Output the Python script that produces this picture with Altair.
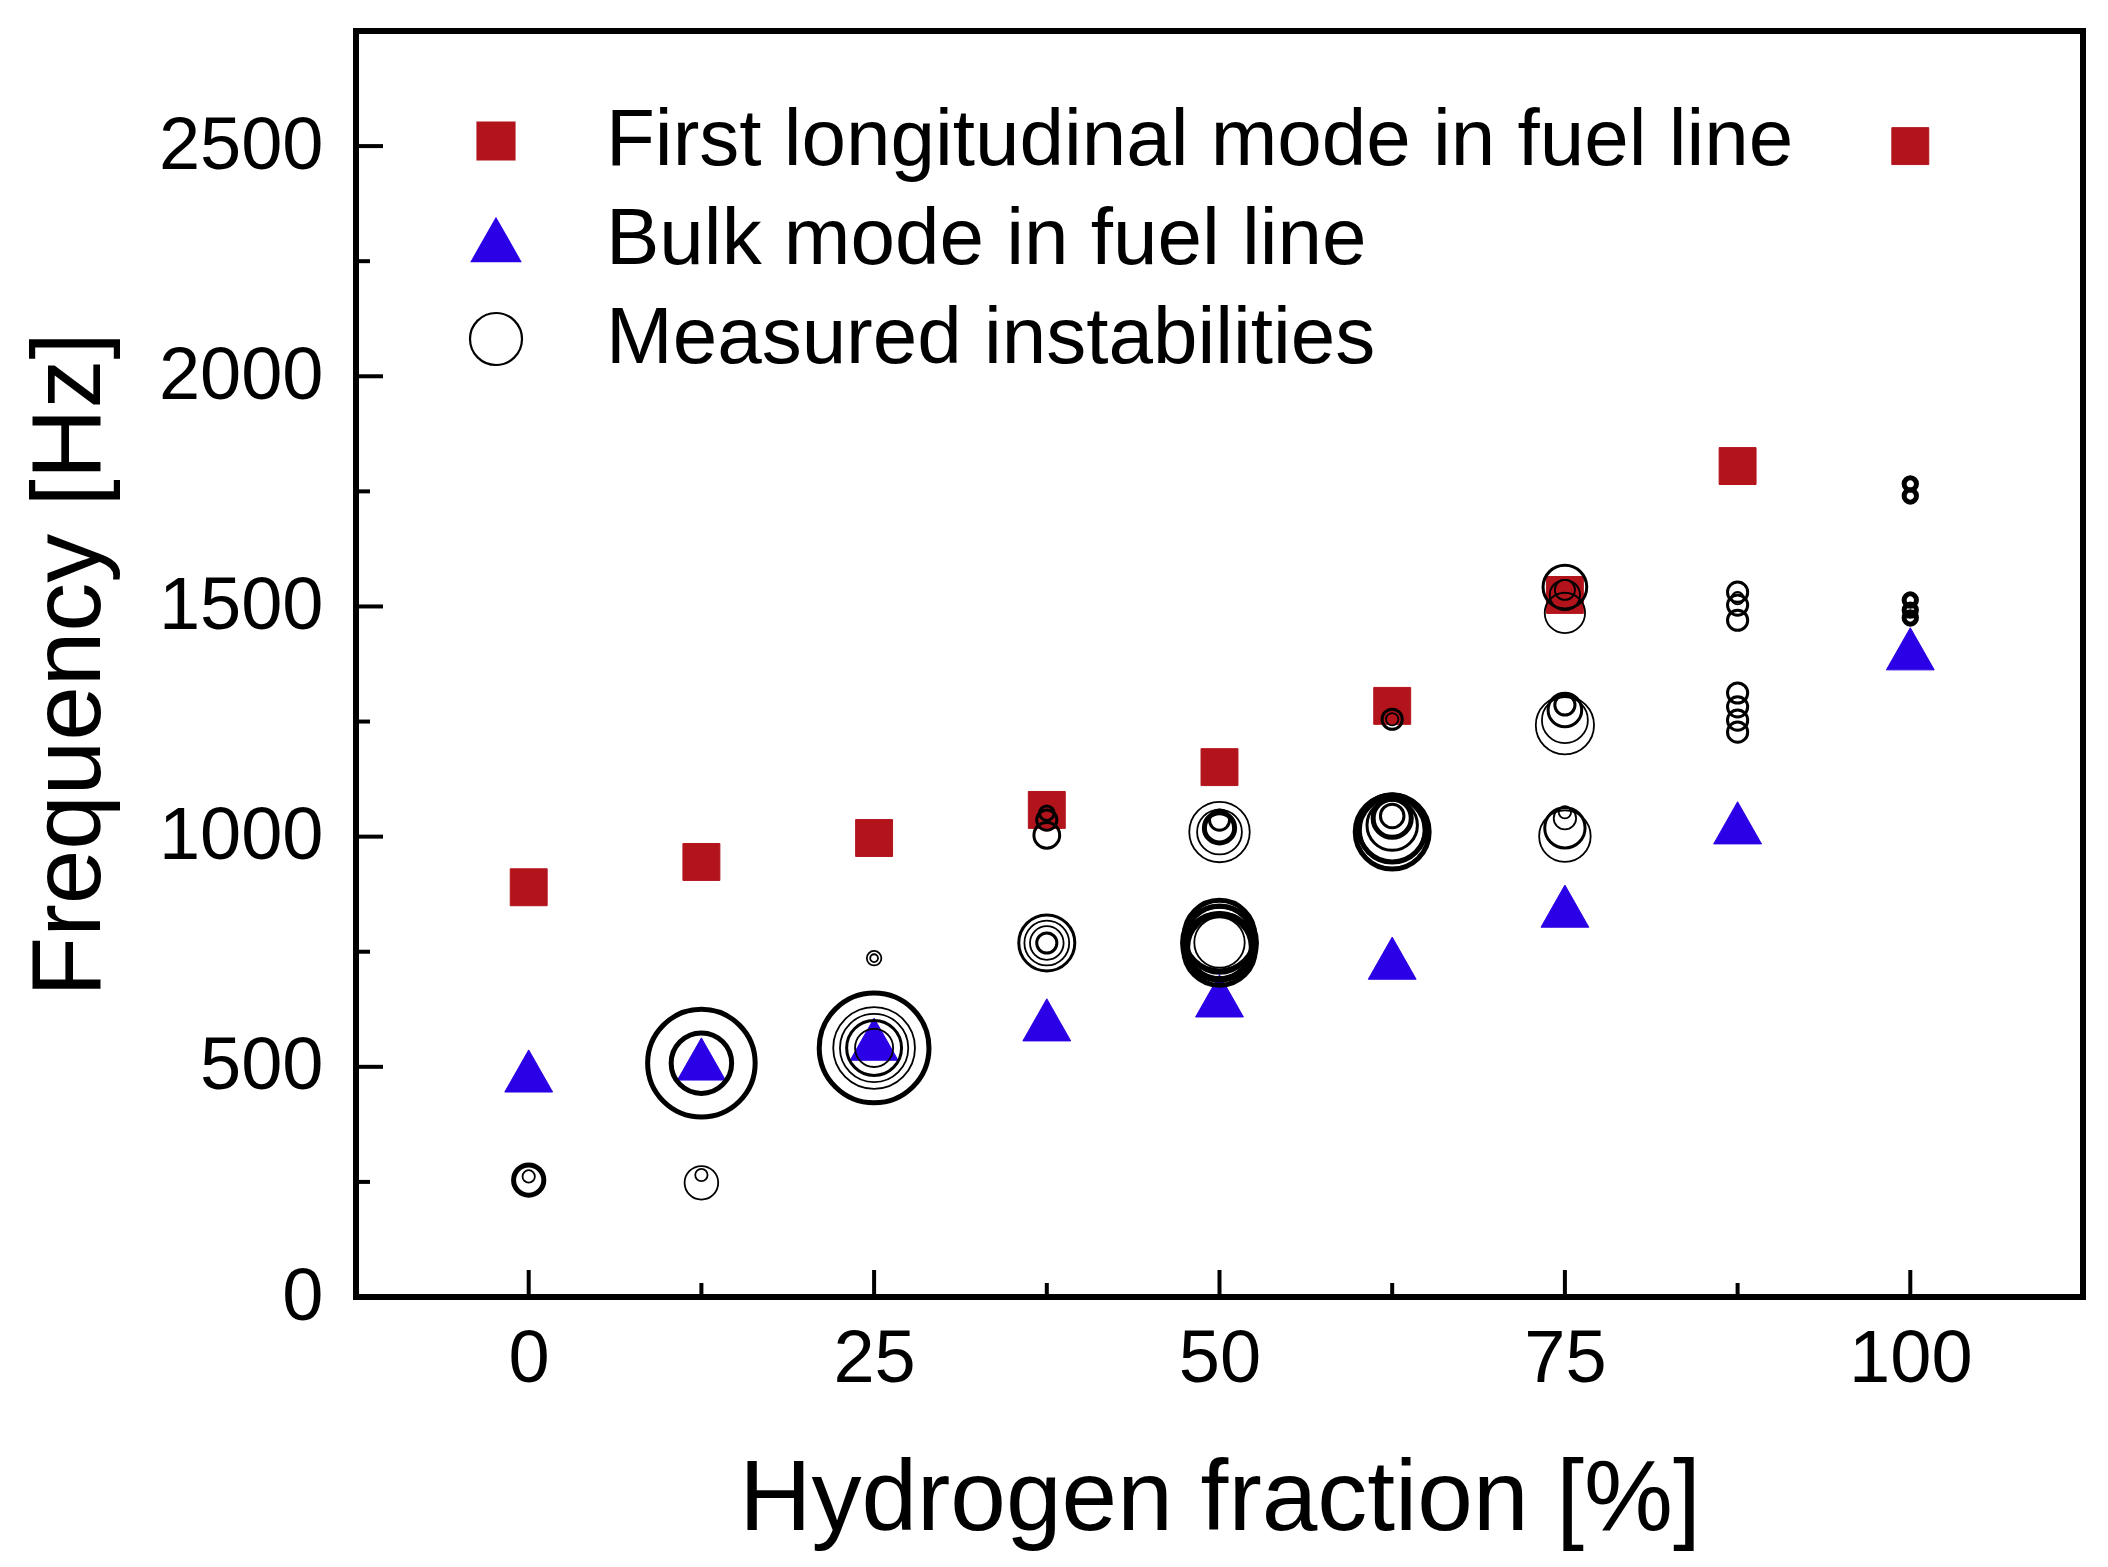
import altair as alt
import pandas as pd

# hydrogen fraction steps [%]
h2 = [0, 12.5, 25, 37.5, 50, 62.5, 75, 87.5, 100]

# model predictions [Hz]
long_mode = [890, 945, 997, 1058, 1151, 1284, 1525, 1805, 2500]   # first longitudinal mode
bulk_mode = [491, 517, 560, 602, 654, 736, 849, 1030, 1408]       # bulk mode

# measured instabilities: fraction, frequency [Hz], relative amplitude (ring size)
# strong rings
heavy_x = [0, 12.5, 12.5, 25, 50, 50, 50, 50, 50, 62.5, 62.5, 62.5, 100, 100, 100, 100, 100]
heavy_f = [254, 508, 508, 541, 1019, 769, 755, 785, 762, 1010, 1018, 1040, 1766, 1740, 1514, 1492, 1475]
heavy_a = [0.27, 0.96, 0.54, 0.98, 0.27, 0.66, 0.64, 0.63, 0.58, 0.66, 0.60, 0.34, 0.11, 0.11, 0.11, 0.11, 0.11]

# medium rings
mid_x = [25, 37.5, 37.5, 37.5, 37.5, 37.5, 50, 50, 50, 62.5, 62.5, 62.5, 62.5,
         75, 75, 75, 75, 87.5, 87.5, 87.5, 87.5, 87.5, 87.5, 87.5]
mid_f = [541, 1003, 1036, 1051, 769, 769, 1036, 775, 760, 1014, 1025, 1045, 1255,
         1542, 1275, 1286, 1019, 1531, 1503, 1470, 1312, 1282, 1253, 1227]
mid_a = [0.49, 0.23, 0.18, 0.13, 0.50, 0.18, 0.18, 0.59, 0.55, 0.57, 0.45, 0.21, 0.18,
         0.39, 0.30, 0.18, 0.36, 0.18, 0.18, 0.18, 0.18, 0.18, 0.18, 0.18]

# weak rings
thin_x = [0, 12.5, 12.5, 25, 25, 25, 25, 25, 37.5, 37.5, 50, 50, 50, 62.5,
          75, 75, 75, 75, 75, 75, 75, 75, 87.5]
thin_f = [262, 248, 265, 736, 736, 541, 541, 541, 769, 769, 1010, 1010, 770, 1255,
          1486, 1525, 1536, 1242, 1253, 1001, 1040, 1053, 1518]
thin_a = [0.11, 0.30, 0.11, 0.13, 0.07, 0.73, 0.61, 0.34, 0.40, 0.30, 0.54, 0.40, 0.45, 0.11,
          0.36, 0.27, 0.18, 0.52, 0.41, 0.46, 0.20, 0.11, 0.11]

x_major = [0, 25, 50, 75, 100]
x_minor = [12.5, 37.5, 62.5, 87.5]
y_major = [0, 500, 1000, 1500, 2000, 2500]
y_minor = [250, 750, 1250, 1750, 2250]

SERIES = ["First longitudinal mode in fuel line", "Bulk mode in fuel line", "Measured instabilities"]
RED = "#b3141c"
BLUE = "#2c00e6"
FONT = "Liberation Sans"
W, H = 1727, 1266
SYM = 2704  # symbol size shared by markers and legend

# marker outlines, scaled by vega to sqrt(size)/2
SQUARE = "M-0.71,-0.71L0.71,-0.71L0.71,0.71L-0.71,0.71Z"
TRIANGLE = "M0,-0.81L0.92,0.81L-0.92,0.81Z"

modes = pd.DataFrame({"h2": h2, "f": long_mode, "series": SERIES[0]})
bulk = pd.DataFrame({"h2": h2, "f": bulk_mode, "series": SERIES[1]})


def rings(xs_, fs_, as_):
    return pd.DataFrame({"h2": xs_, "f": fs_, "amp": as_, "series": SERIES[2]})


leg = alt.Legend(
    title=None, orient="none", legendX=100, legendY=70, direction="vertical",
    padding=0, labelFont=FONT, labelFontSize=80, labelColor="black", labelLimit=1500,
    labelOffset=70, rowPadding=19, symbolSize=SYM, symbolStrokeWidth=2.2,
    symbolOpacity=1,
)

xscale = alt.Scale(domain=[-12.5, 112.5], nice=False, zero=False)
yscale = alt.Scale(domain=[0, 2750], nice=False)

xaxis = alt.Axis(values=x_major, format="d", ticks=False, tickSize=0, domain=False, grid=False,
                 labelFont=FONT, labelFontSize=74, labelPadding=26, labelColor="black", labelLimit=400,
                 titleFont=FONT, titleFontSize=100, titleFontWeight="normal", titleColor="black",
                 titleX=W / 2, titleY=232, titleBaseline="alphabetic", titleLimit=2000)
yaxis = alt.Axis(values=y_major, format="d", ticks=False, tickSize=0, domain=False, grid=False,
                 labelFont=FONT, labelFontSize=74, labelPadding=33, labelColor="black", labelLimit=400,
                 titleFont=FONT, titleFontSize=98, titleFontWeight="normal", titleColor="black",
                 titleX=-257, titleY=H / 2, titleBaseline="alphabetic", titleLimit=2000)


def X(field):
    return alt.X(field, scale=xscale, axis=xaxis, title="Hydrogen fraction [%]")


def Y(field):
    return alt.Y(field, scale=yscale, axis=yaxis, title="Frequency [Hz]")


def series_enc():
    return dict(
        shape=alt.Shape("series:N", scale=alt.Scale(domain=SERIES, range=[SQUARE, TRIANGLE, "circle"]), legend=leg),
        fill=alt.Fill("series:N", scale=alt.Scale(domain=SERIES, range=[RED, BLUE, "transparent"]), legend=leg),
        stroke=alt.Stroke("series:N", scale=alt.Scale(domain=SERIES, range=[RED, BLUE, "black"]), legend=leg),
    )


size_enc = alt.Size("amp:Q", scale=alt.Scale(type="pow", exponent=2, domain=[0, 1], range=[0, 12544]), legend=None)

squares = alt.Chart(modes).mark_point(filled=True, size=SYM, strokeWidth=1, opacity=1).encode(
    x=X("h2:Q"), y=Y("f:Q"), **series_enc())
triangles = alt.Chart(bulk).mark_point(filled=True, size=SYM, strokeWidth=1, opacity=1).encode(
    x=X("h2:Q"), y=Y("f:Q"), **series_enc())

ring_layers = []
for xs_, fs_, as_, sw in [(thin_x, thin_f, thin_a, 1.8), (mid_x, mid_f, mid_a, 3), (heavy_x, heavy_f, heavy_a, 5)]:
    ring_layers.append(
        alt.Chart(rings(xs_, fs_, as_)).mark_point(filled=False, strokeWidth=sw, opacity=1).encode(
            x=X("h2:Q"), y=Y("f:Q"), size=size_enc, **series_enc())
    )

# inward ticks
tick_layers = []
for vals, ln in [(x_major, 27), (x_minor, 14)]:
    tick_layers.append(
        alt.Chart(pd.DataFrame({"t": vals})).mark_rule(color="black", strokeWidth=4).encode(
            x=X("t:Q"), y=alt.value(H), y2=alt.value(H - ln))
    )
for vals, ln in [(y_major, 27), (y_minor, 14)]:
    tick_layers.append(
        alt.Chart(pd.DataFrame({"t": vals})).mark_rule(color="black", strokeWidth=4).encode(
            y=Y("t:Q"), x=alt.value(0), x2=alt.value(ln))
    )

chart = alt.layer(squares, triangles, *ring_layers, *tick_layers).properties(
    width=W,
    height=H,
    autosize=alt.AutoSizeParams(type="none"),
    padding={"left": 348, "top": 23, "right": 17, "bottom": 260},
).configure_view(stroke="black", strokeWidth=6)

chart.save("out.html", embed_options={"renderer": "svg", "actions": False})
